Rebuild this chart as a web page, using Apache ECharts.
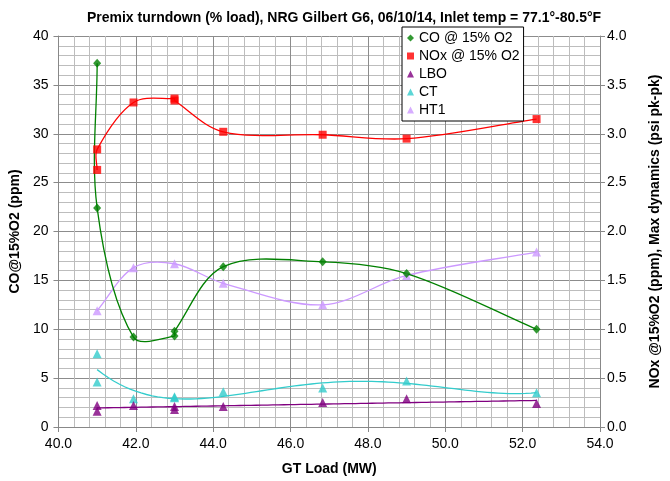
<!DOCTYPE html>
<html>
<head>
<meta charset="utf-8">
<script src="https://cdn.jsdelivr.net/npm/echarts@6/dist/echarts.min.js"></script>
<style>
  html, body { margin: 0; padding: 0; background: #fff; }
  #main { width: 670px; height: 481px; }
</style>
</head>
<body>
<div id="main"></div>
<script>
// GT load (MW) and readings
var coData = [[41.0, 37.2], [41.0, 22.4], [41.94, 9.2], [43.0, 9.3], [43.0, 9.8],
  [44.26, 16.4], [46.83, 16.9], [49.0, 15.7], [52.36, 10.0]];
var noxData = [[41.0, 2.63], [41.0, 2.84], [41.94, 3.32], [43.0, 3.36], [43.0, 3.34],
  [44.26, 3.02], [46.83, 2.99], [49.0, 2.95], [52.36, 3.15]];
var lboData = [[41.0, 0.22], [41.0, 0.16], [41.94, 0.22], [43.0, 0.21], [43.0, 0.18],
  [44.26, 0.21], [46.83, 0.25], [49.0, 0.29], [52.36, 0.24]];
var ctData = [[41.0, 0.75], [41.0, 0.46], [41.94, 0.29], [43.0, 0.31], [43.0, 0.30],
  [44.26, 0.36], [46.83, 0.40], [49.0, 0.47], [52.36, 0.35]];
var ht1Data = [[41.0, 1.19], [41.94, 1.63], [43.0, 1.67], [44.26, 1.47],
  [46.83, 1.25], [49.0, 1.55], [52.36, 1.79]];

var titleText = 'Premix turndown (% load), NRG Gilbert G6, 06/10/14, Inlet temp = 77.1°-80.5°F';
var legendNames = ['CO @ 15% O2', 'NOx @ 15% O2', 'LBO', 'CT', 'HT1'];

// least squares polynomial, used for the spreadsheet-style trendlines
function polyfit(pts, deg) {
  var x0 = 46, n = deg + 1;
  var A = [];
  for (var i = 0; i < n; i++) { A.push(new Array(n + 1).fill(0)); }
  pts.forEach(function (p) {
    var t = p[0] - x0;
    for (var i = 0; i < n; i++) {
      for (var j = 0; j < n; j++) A[i][j] += Math.pow(t, i + j);
      A[i][n] += p[1] * Math.pow(t, i);
    }
  });
  for (var c = 0; c < n; c++) {
    var piv = c;
    for (var r = c + 1; r < n; r++) if (Math.abs(A[r][c]) > Math.abs(A[piv][c])) piv = r;
    var tmp = A[c]; A[c] = A[piv]; A[piv] = tmp;
    for (var r2 = 0; r2 < n; r2++) {
      if (r2 === c) continue;
      var f = A[r2][c] / A[c][c];
      for (var k = c; k <= n; k++) A[r2][k] -= f * A[c][k];
    }
  }
  var coef = A.map(function (row, i) { return row[n] / row[i]; });
  return function (x) {
    var t = x - x0, s = 0;
    for (var i = 0; i < n; i++) s += coef[i] * Math.pow(t, i);
    return s;
  };
}

// smoothed line through the points, tangent weighted by segment length,
// no clamping so it can overshoot a little like the excel smoothed line
function smoothPath(data, api) {
  var p = data.map(function (d) { return api.coord(d); });
  var s = 1 / 3, d = 'M' + p[0][0] + ' ' + p[0][1];
  function dist(a, b) { return Math.sqrt((a[0] - b[0]) * (a[0] - b[0]) + (a[1] - b[1]) * (a[1] - b[1])); }
  function ctrl(i) {
    var prev = p[i - 1] || p[i], cur = p[i], next = p[i + 1] || p[i];
    var vx = next[0] - prev[0], vy = next[1] - prev[1];
    var l0 = dist(prev, cur), l1 = dist(cur, next), tot = (l0 + l1) || 1;
    return {
      back: [cur[0] - vx * s * l0 / tot, cur[1] - vy * s * l0 / tot],
      fwd: [cur[0] + vx * s * l1 / tot, cur[1] + vy * s * l1 / tot]
    };
  }
  for (var i = 0; i < p.length - 1; i++) {
    var a = ctrl(i).fwd, b = ctrl(i + 1).back;
    d += ' C' + a[0] + ' ' + a[1] + ' ' + b[0] + ' ' + b[1] + ' ' + p[i + 1][0] + ' ' + p[i + 1][1];
  }
  return d;
}

function trendPath(data, deg, api) {
  var f = polyfit(data, deg);
  var xs = data.map(function (d) { return d[0]; });
  var lo = Math.min.apply(null, xs), hi = Math.max.apply(null, xs);
  var d = '';
  for (var i = 0; i <= 80; i++) {
    var x = lo + (hi - lo) * i / 80;
    var c = api.coord([x, f(x)]);
    d += (i ? ' L' : 'M') + c[0] + ' ' + c[1];
  }
  return d;
}

function curve(name, data, color, yIdx, pathFn) {
  return {
    name: name, type: 'custom', yAxisIndex: yIdx, data: data, silent: true, z: 2,
    renderItem: function (params, api) {
      if (params.dataIndex !== 0) return;
      return {
        type: 'path',
        shape: { pathData: pathFn(data, api) },
        style: { stroke: color, fill: 'none', lineWidth: 1.3 }
      };
    }
  };
}

function markers(name, data, color, yIdx, symbol, size) {
  return {
    name: name, type: 'scatter', yAxisIndex: yIdx, data: data,
    symbol: symbol, symbolSize: size, color: color, z: 5
  };
}

var myChart = echarts.init(document.getElementById('main'));

var font = 'Liberation Sans, Arial, sans-serif';
var axisCommon = {
  axisLine: { show: true, lineStyle: { color: '#888', width: 1 } },
  axisTick: { show: true, inside: false, length: 5, lineStyle: { color: '#888' } },
  axisLabel: { color: '#000', fontSize: 14, fontFamily: font },
  nameTextStyle: { color: '#000', fontSize: 14, fontWeight: 'bold', fontFamily: font },
  nameLocation: 'middle'
};

var option = {
  animation: false,
  textStyle: { fontFamily: font },
  title: {
    text: titleText,
    left: 339,
    textAlign: 'center',
    top: 6,
    textStyle: { fontSize: 14, fontWeight: 'bold', color: '#000', fontFamily: font }
  },
  grid: { left: 58, right: 50, top: 36, bottom: 45 },
  legend: {
    orient: 'vertical',
    left: 402,
    top: 27,
    selectedMode: false,
    backgroundColor: '#fff',
    borderColor: '#000',
    borderWidth: 1,
    padding: [4, 4, 4, 5],
    itemGap: 4,
    itemWidth: 7,
    itemHeight: 7,
    textStyle: { fontSize: 14, color: '#000', lineHeight: 14, fontFamily: font },
    data: [
      { name: legendNames[0], icon: 'diamond' },
      { name: legendNames[1], icon: 'rect' },
      { name: legendNames[2], icon: 'triangle' },
      { name: legendNames[3], icon: 'triangle' },
      { name: legendNames[4], icon: 'triangle' }
    ]
  },
  xAxis: Object.assign({}, axisCommon, {
    type: 'value',
    min: 40, max: 54, interval: 2,
    name: 'GT Load (MW)',
    nameGap: 35,
    axisLabel: Object.assign({}, axisCommon.axisLabel, {
      margin: 10,
      formatter: function (v) { return v.toFixed(1); }
    }),
    splitLine: { show: true, lineStyle: { color: '#8c8c8c', width: 1 } },
    minorTick: { show: false, splitNumber: 5 },
    minorSplitLine: { show: true, lineStyle: { color: '#bdbdbd', width: 1 } }
  }),
  yAxis: [
    Object.assign({}, axisCommon, {
      type: 'value',
      min: 0, max: 40, interval: 5,
      name: 'CO@15%O2 (ppm)',
      nameRotate: 90,
      nameGap: 28,
      axisLabel: Object.assign({}, axisCommon.axisLabel, { margin: 10 }),
      splitLine: { show: true, lineStyle: { color: '#8c8c8c', width: 1 } },
      minorTick: { show: false, splitNumber: 5 },
      minorSplitLine: { show: true, lineStyle: { color: '#bdbdbd', width: 1 } }
    }),
    Object.assign({}, axisCommon, {
      type: 'value',
      min: 0, max: 4, interval: 0.5,
      position: 'right',
      name: 'NOx @15%O2 (ppm), Max dynamics (psi pk-pk)',
      nameRotate: 90,
      nameGap: 48,
      axisLabel: Object.assign({}, axisCommon.axisLabel, {
        margin: 7,
        formatter: function (v) { return v.toFixed(1); }
      }),
      splitLine: { show: false }
    })
  ],
  series: [
    curve('CT trend', ctData, '#33CCCC', 1, function (d, api) { return trendPath(d, 4, api); }),
    curve('LBO trend', lboData, '#800080', 1, function (d, api) { return trendPath(d, 1, api); }),
    curve('HT1 line', ht1Data, '#CC99FF', 1, smoothPath),
    curve('CO line', coData, '#008000', 0, smoothPath),
    curve('NOx line', noxData, '#FF0000', 1, smoothPath),
    markers(legendNames[4], ht1Data, '#CC99FF', 1, 'triangle', 9),
    markers(legendNames[3], ctData, '#33CCCC', 1, 'triangle', 9),
    markers(legendNames[2], lboData, '#800080', 1, 'triangle', 9),
    markers(legendNames[0], coData, '#008000', 0, 'diamond', [8, 9]),
    markers(legendNames[1], noxData, '#FF0000', 1, 'rect', 8)
  ]
};

myChart.setOption(option);
</script>
</body>
</html>
